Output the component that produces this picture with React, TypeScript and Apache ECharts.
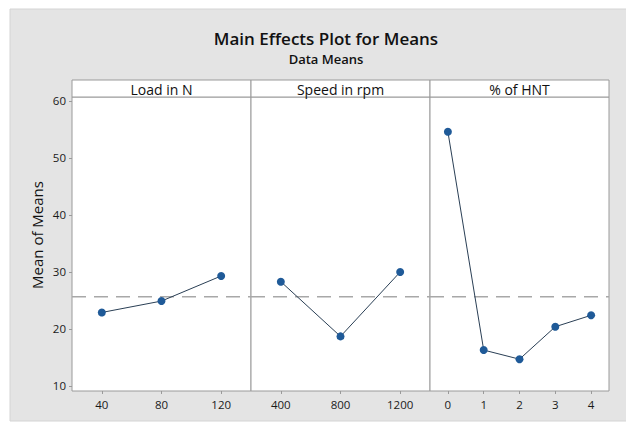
import React, { useEffect, useRef } from "react";
import * as echarts from "echarts";

const loadLevels = [40, 80, 120];
const loadMeans = [22.9, 24.9, 29.3];
const speedLevels = [400, 800, 1200];
const speedMeans = [28.3, 18.7, 30.0];
const hntLevels = [0, 1, 2, 3, 4];
const hntMeans = [54.6, 16.3, 14.7, 20.4, 22.4];
const grandMean = 25.67;
const yTicks = [10, 20, 30, 40, 50, 60];
const panelTitles = ["Load in N", "Speed in rpm", "% of HNT"];

const FONT = "'Open Sans', 'Noto Sans', sans-serif";

export default function App() {
  const ref = useRef<HTMLDivElement>(null);
  useEffect(() => {
    document.body.style.margin = "0";
    const chart = echarts.init(ref.current!, undefined, { renderer: "svg" });
    const panels = [
      { left: 72, width: 179, levels: loadLevels, means: loadMeans, min: 20, max: 140 },
      { left: 251, width: 179, levels: speedLevels, means: speedMeans, min: 200, max: 1400 },
      { left: 430, width: 179, levels: hntLevels, means: hntMeans, min: -0.5, max: 4.5 },
    ];
    const top = 97;
    const height = 294;
    const axisColor = "#9a9a9a";
    const labelStyle = { color: "#1a1a1a", fontSize: 11.5, fontFamily: FONT };
    const option: any = {
      animation: false,
      backgroundColor: "#ffffff",
      grid: panels.map((p) => ({
        left: p.left,
        top,
        width: p.width,
        height,
        show: true,
        backgroundColor: "#ffffff",
        borderColor: axisColor,
        borderWidth: 1,
      })),
      xAxis: panels.map((p, i) => ({
        type: "value",
        gridIndex: i,
        min: p.min,
        max: p.max,
        splitLine: { show: false },
        axisLine: { show: false },
        axisTick: {
          show: true,
          length: 3,
          lineStyle: { color: axisColor },
          customValues: p.levels,
        },
        axisLabel: {
          ...labelStyle,
          margin: 7,
          customValues: p.levels,
          formatter: (v: number) => String(v),
        },
      })),
      yAxis: panels.map((p, i) => ({
        type: "value",
        gridIndex: i,
        min: 9.12,
        max: 60.7,
        splitLine: { show: false },
        axisLine: { show: false },
        axisTick: {
          show: i === 0,
          length: 3,
          lineStyle: { color: axisColor },
          customValues: yTicks,
        },
        axisLabel: {
          ...labelStyle,
          show: i === 0,
          margin: 6,
          customValues: yTicks,
          formatter: (v: number) => String(v),
        },
      })),
      series: panels.flatMap((p, i) => [
        {
          type: "line",
          xAxisIndex: i,
          yAxisIndex: i,
          data: [
            [p.min, grandMean],
            [p.max, grandMean],
          ],
          symbol: "none",
          silent: true,
          lineStyle: { color: "#a8a8a8", width: 1.5, type: [14, 8] },
          z: 1,
        },
        {
          type: "line",
          xAxisIndex: i,
          yAxisIndex: i,
          data: p.levels.map((x, k) => [x, p.means[k]]),
          symbol: "circle",
          symbolSize: 8,
          lineStyle: { color: "#2a3f55", width: 1 },
          itemStyle: { color: "#1f5a98" },
          z: 3,
        },
      ]),
      graphic: [
        {
          type: "rect",
          z: -100,
          shape: { x: 10, y: 9, width: 620, height: 412 },
          style: { fill: "#e4e4e4", stroke: "#d4d4d4", lineWidth: 1 },
        },
        ...panels.map((p) => ({
          type: "rect",
          shape: { x: p.left, y: 80, width: p.width, height: 17 },
          style: { fill: "#ffffff", stroke: axisColor, lineWidth: 1 },
        })),
        ...panels.map((p, i) => ({
          type: "text",
          x: p.left + p.width / 2,
          y: 89,
          style: {
            text: panelTitles[i],
            fill: "#111",
            font: `14px ${FONT}`,
            textAlign: "center",
            textVerticalAlign: "middle",
          },
        })),
        {
          type: "text",
          x: 37,
          y: 235,
          rotation: Math.PI / 2,
          style: {
            text: "Mean of Means",
            fill: "#111",
            font: `15px ${FONT}`,
            textAlign: "center",
            textVerticalAlign: "middle",
          },
        },
        {
          type: "text",
          x: 326,
          y: 38,
          style: {
            text: "Main Effects Plot for Means",
            fill: "#111",
            font: `600 17px ${FONT}`,
            textAlign: "center",
            textVerticalAlign: "middle",
          },
        },
        {
          type: "text",
          x: 326,
          y: 59,
          style: {
            text: "Data Means",
            fill: "#111",
            font: `600 13px ${FONT}`,
            textAlign: "center",
            textVerticalAlign: "middle",
          },
        },
      ],
    };
    chart.setOption(option);
    return () => chart.dispose();
  }, []);
  return <div ref={ref} style={{ width: 626, height: 423 }} />;
}
